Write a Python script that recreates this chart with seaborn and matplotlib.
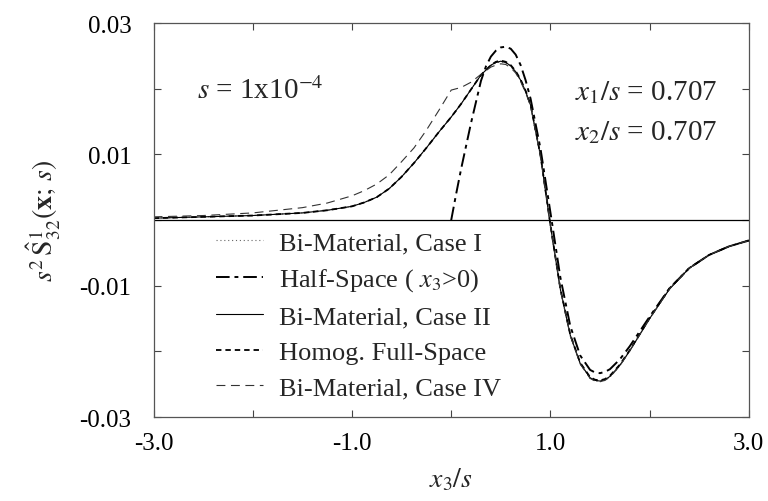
"""
Stress-like Green's function component s^2 S32 along x3/s,
comparing bi-material cases, half-space and full-space solutions.
"""

import matplotlib
matplotlib.use("Agg")
import matplotlib.pyplot as plt
import numpy as np
import pandas as pd
import seaborn as sns

sns.set_theme(style="ticks")
plt.rcParams["font.family"] = ["Liberation Serif", "DejaVu Serif"]
plt.rcParams["mathtext.fontset"] = "stix"

# values (x3/s, s^2 S32)
x_case2 = [-3.0, -2.5, -2.0, -1.5, -1.25, -1.0, -0.875, -0.75, -0.625,
           -0.5, -0.375, -0.25, -0.125, 0.0, 0.1, 0.2, 0.3, 0.4, 0.45,
           0.5, 0.55, 0.6, 0.65, 0.7, 0.75, 0.8, 0.9, 1.0, 1.1, 1.2, 1.3,
           1.4, 1.45, 1.5, 1.55, 1.6, 1.7, 1.8, 2.0, 2.2, 2.4, 2.6, 2.8,
           3.0]
y_case2 = [0.0003, 0.0005, 0.0007, 0.0011, 0.0015, 0.0021, 0.0027, 0.0035,
           0.0048, 0.0066, 0.0087, 0.0110, 0.0134, 0.0157, 0.0177, 0.0199,
           0.0221, 0.0236, 0.0240, 0.0242, 0.0240, 0.0235, 0.0226, 0.0213,
           0.0196, 0.0175, 0.0098, -0.0008, -0.0105, -0.0175, -0.0218,
           -0.0240, -0.0244, -0.0245, -0.0243, -0.0238, -0.0221, -0.0199,
           -0.0150, -0.0105, -0.0073, -0.0053, -0.0040, -0.0031]

y_case1 = [0.0003, 0.0005, 0.0007, 0.0011, 0.0015, 0.0021, 0.0027, 0.0035,
           0.0048, 0.0066, 0.0087, 0.0110, 0.0134, 0.0157, 0.0177, 0.0199,
           0.0221, 0.0235, 0.0239, 0.0241, 0.0239, 0.0234, 0.0225, 0.0212,
           0.0195, 0.0174, 0.0097, -0.0009, -0.0106, -0.0176, -0.0219,
           -0.0241, -0.0245, -0.0246, -0.0244, -0.0239, -0.0222, -0.0199,
           -0.0150, -0.0105, -0.0073, -0.0053, -0.0040, -0.0031]

y_homog = [0.0003, 0.0005, 0.0007, 0.0011, 0.0015, 0.0021, 0.0027, 0.0035,
           0.0048, 0.0066, 0.0087, 0.0110, 0.0134, 0.0157, 0.0177, 0.0199,
           0.0221, 0.0236, 0.0241, 0.0243, 0.0241, 0.0236, 0.0227, 0.0214,
           0.0197, 0.0176, 0.0099, -0.0007, -0.0104, -0.0174, -0.0217,
           -0.0239, -0.0243, -0.0244, -0.0242, -0.0237, -0.0220, -0.0198,
           -0.0149, -0.0104, -0.0073, -0.0053, -0.0040, -0.0031]

x_case4 = [-3.0, -2.5, -2.0, -1.5, -1.25, -1.0, -0.875, -0.75, -0.625,
           -0.5, -0.375, -0.25, -0.125, 0.0, 0.05, 0.1, 0.2, 0.3, 0.4,
           0.45, 0.5, 0.55, 0.6, 0.65, 0.7, 0.75, 0.8, 0.9, 1.0, 1.1, 1.2,
           1.3, 1.4, 1.45, 1.5, 1.55, 1.6, 1.7, 1.8, 2.0, 2.2, 2.4, 2.6,
           2.8, 3.0]
y_case4 = [0.0005, 0.0007, 0.0011, 0.0019, 0.0026, 0.0037, 0.0045, 0.0055,
           0.0069, 0.0089, 0.0110, 0.0137, 0.0167, 0.0198, 0.0200, 0.0202,
           0.0210, 0.0222, 0.0233, 0.0236, 0.0238, 0.0237, 0.0232, 0.0224,
           0.0211, 0.0194, 0.0174, 0.0097, -0.0009, -0.0106, -0.0176,
           -0.0219, -0.0241, -0.0245, -0.0246, -0.0244, -0.0239, -0.0222,
           -0.0199, -0.0150, -0.0105, -0.0073, -0.0053, -0.0040, -0.0031]

x_half = [0.0, 0.05, 0.1, 0.15, 0.2, 0.25, 0.3, 0.35, 0.4, 0.45, 0.5,
          0.55, 0.6, 0.65, 0.7, 0.75, 0.8, 0.9, 1.0, 1.1, 1.2, 1.3, 1.4,
          1.45, 1.5, 1.55, 1.6, 1.7, 1.8, 2.0, 2.2, 2.4, 2.6, 2.8, 3.0]
y_half = [0.0, 0.0040, 0.0078, 0.0113, 0.0148, 0.0180, 0.0212, 0.0234,
          0.0249, 0.0258, 0.0263, 0.0264, 0.0261, 0.0252, 0.0236, 0.0213,
          0.0185, 0.0109, 0.0012, -0.0087, -0.0161, -0.0206, -0.0228,
          -0.0232, -0.0233, -0.0231, -0.0227, -0.0212, -0.0192, -0.0147,
          -0.0104, -0.0073, -0.0053, -0.0040, -0.0031]

x_tick_labels = ["-3.0", "", "-1.0", "", "1.0", "", "3.0"]
y_tick_labels = ["-0.03", "", "-0.01", "", "0.01", "", "0.03"]

fig = plt.figure(figsize=(7.68, 5.02), dpi=100)
ax = fig.add_axes([0.2, 0.167, 0.775, 0.785])

curves = [
    ("Bi-Material, Case I", x_case2, y_case1, "#666666", 0.8,
     (0, (1, 2.5))),
    ("Half-Space ( $x_3$>0)", x_half, y_half, "black", 1.4,
     (0, (7, 2.5, 2, 2.5))),
    ("Bi-Material, Case II", x_case2, y_case2, "black", 0.8, "-"),
    ("Homog. Full-Space", x_case2, y_homog, "black", 1.3, (0, (3, 2.2))),
    ("Bi-Material, Case IV", x_case4, y_case4, "#333333", 0.8,
     (0, (8, 5))),
]
for label, xs, ys, col, lw, ls in curves:
    df = pd.DataFrame({"x": xs, "y": ys})
    sns.lineplot(data=df, x="x", y="y", ax=ax, color=col, lw=lw,
                 linestyle=ls, label=label)

ax.axhline(0, color="black", lw=0.9)

ax.set_xlim(-3, 3)
ax.set_ylim(-0.03, 0.03)
ax.set_xticks(np.arange(-3, 3.5, 1))
ax.set_xticklabels(x_tick_labels)
ax.set_yticks(np.arange(-0.03, 0.035, 0.01))
ax.set_yticklabels(y_tick_labels)
ax.tick_params(direction="in", length=5, width=0.8, labelsize=18,
               top=True, right=True, colors="#444444", labelcolor="black")
ax.tick_params(axis="x", pad=11)
ax.tick_params(axis="y", pad=16)
for sp in ax.spines.values():
    sp.set_color("#555555")
    sp.set_linewidth(0.9)

ax.set_xlabel("$x_3/s$", fontsize=20, labelpad=8)
ax.set_ylabel(r"$s^{2}\,\hat{\mathrm{S}}^{1}_{32}(\mathbf{x};\,s)$",
              fontsize=20, labelpad=12)

ax.text(-2.56, 0.0198, "$s$ = 1x10$^{-4}$", fontsize=21, va="center")
ax.text(2.68, 0.0195, "$x_1/s$ = 0.707", fontsize=21, va="center",
        ha="right")
ax.text(2.68, 0.0134, "$x_2/s$ = 0.707", fontsize=21, va="center",
        ha="right")

leg = ax.legend(loc="upper left", bbox_to_anchor=(0.104, 0.472),
                frameon=False, fontsize=19, handlelength=1.8,
                handletextpad=0.6, labelspacing=0.45, borderaxespad=0,
                borderpad=0)

fig.savefig("out.png", dpi=100)
